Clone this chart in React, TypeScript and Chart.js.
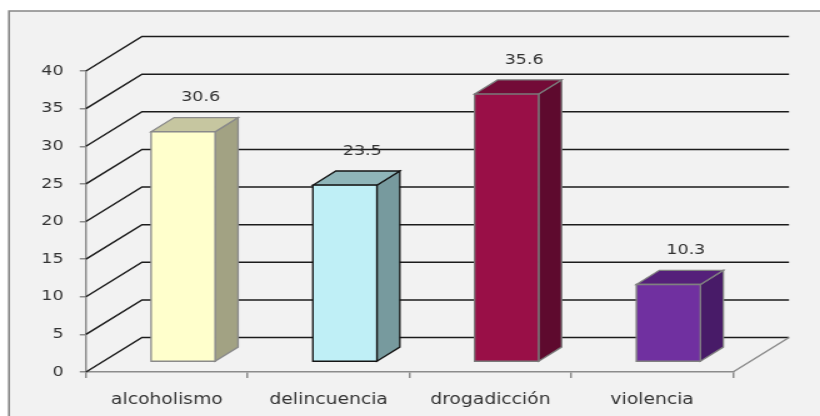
import { useEffect, useRef } from 'react';
import { Chart, registerables } from 'chart.js';

Chart.register(...registerables);

// ---- data ----
const categories = ['alcoholismo', 'delincuencia', 'drogadicción', 'violencia'];
const values = [30.6, 23.5, 35.6, 10.3];
const yMin = 0;
const yMax = 40;
const yStep = 5;

// ---- styles ----
const frontColors = ['#FFFFCC', '#BFEFF6', '#990F47', '#7030A0'];
const sideColors = ['#A2A283', '#779A9E', '#5E0A2E', '#481B68'];
const topColors = ['#C6C6A0', '#8FB5B9', '#730B37', '#55207A'];
const edgeColors = ['#8a8a8a', '#141414', '#7a7a7a', '#808080'];

const SX = 1.25; // horizontal stretch of the whole picture
const W = 656; // 820 / 1.25
const H = 416;
const DEPTH_X = 44.8;
const DEPTH_Y = -34.5;
const BAR_FRONT = 0.29;
const BAR_BACK = 0.7;

const threeD = {
  id: 'threeD',
  beforeDraw(chart: any) {
    const ctx = chart.ctx;
    ctx.save();
    ctx.fillStyle = '#ffffff';
    ctx.fillRect(0, 0, chart.width, chart.height);
    ctx.fillStyle = '#f2f2f2';
    ctx.fillRect(7.2, 11, chart.width, chart.height);
    ctx.strokeStyle = '#878787';
    ctx.lineWidth = 1.6;
    ctx.beginPath();
    ctx.moveTo(7.2, chart.height);
    ctx.lineTo(7.2, 11);
    ctx.lineTo(chart.width, 11);
    ctx.stroke();
    ctx.restore();
  },
  beforeDatasetsDraw(chart: any) {
    const ctx = chart.ctx;
    const { left, right, bottom } = chart.chartArea;
    const ys = chart.scales.y;
    ctx.save();
    ctx.strokeStyle = '#1c1c1c';
    ctx.lineWidth = 1.5;
    for (let v = yMin; v <= yMax; v += yStep) {
      const yF = ys.getPixelForValue(v);
      ctx.beginPath();
      ctx.moveTo(left, yF);
      ctx.lineTo(left + DEPTH_X, yF + DEPTH_Y);
      ctx.lineTo(right + DEPTH_X, yF + DEPTH_Y);
      ctx.stroke();
    }
    ctx.strokeStyle = '#8c8c8c';
    ctx.beginPath();
    ctx.moveTo(right, bottom);
    ctx.lineTo(right + DEPTH_X, bottom + DEPTH_Y);
    ctx.stroke();
    ctx.restore();
  },
  afterDatasetsDraw(chart: any) {
    const ctx = chart.ctx;
    const meta = chart.getDatasetMeta(0);
    const f1x = DEPTH_X * BAR_FRONT;
    const f1y = DEPTH_Y * BAR_FRONT;
    const ddx = DEPTH_X * (BAR_BACK - BAR_FRONT);
    const ddy = DEPTH_Y * (BAR_BACK - BAR_FRONT);
    ctx.save();
    ctx.lineJoin = 'miter';
    meta.data.forEach((el: any, i: number) => {
      const w = el.width;
      const x0 = el.x - w / 2 + f1x;
      const x1 = el.x + w / 2 + f1x;
      const yT = el.y + f1y;
      const yB = el.base + f1y;
      ctx.lineWidth = 1.3;
      ctx.strokeStyle = edgeColors[i];
      // side
      ctx.beginPath();
      ctx.moveTo(x1, yT);
      ctx.lineTo(x1 + ddx, yT + ddy);
      ctx.lineTo(x1 + ddx, yB + ddy);
      ctx.lineTo(x1, yB);
      ctx.closePath();
      ctx.fillStyle = sideColors[i];
      ctx.fill();
      ctx.stroke();
      // top
      ctx.beginPath();
      ctx.moveTo(x0, yT);
      ctx.lineTo(x0 + ddx, yT + ddy);
      ctx.lineTo(x1 + ddx, yT + ddy);
      ctx.lineTo(x1, yT);
      ctx.closePath();
      ctx.fillStyle = topColors[i];
      ctx.fill();
      ctx.stroke();
      // front
      ctx.beginPath();
      ctx.rect(x0, yT, x1 - x0, yB - yT);
      ctx.fillStyle = frontColors[i];
      ctx.fill();
      ctx.stroke();
      // label
      ctx.fillStyle = '#333333';
      ctx.font = '14px "DejaVu Sans"';
      ctx.textAlign = 'center';
      ctx.textBaseline = 'middle';
      ctx.fillText(String(values[i]), (x0 + x1) / 2 + 14, yT - 34);
    });
    ctx.restore();
  },
};

export default function App() {
  const ref = useRef<HTMLCanvasElement>(null);
  useEffect(() => {
    if (!ref.current) return;
    const chart = new Chart(ref.current, {
      type: 'bar',
      data: {
        labels: categories,
        datasets: [
          {
            data: values,
            backgroundColor: 'rgba(0,0,0,0)',
            borderWidth: 0,
            barPercentage: 0.3957,
            categoryPercentage: 1,
          },
        ],
      },
      options: {
        responsive: false,
        animation: false,
        devicePixelRatio: 1,
        layout: { padding: { top: 71, right: W - 586.4, left: 0, bottom: 0 } },
        plugins: { legend: { display: false }, tooltip: { enabled: false } },
        scales: {
          x: {
            grid: {
              display: true,
              drawOnChartArea: false,
              drawTicks: true,
              tickLength: 6,
              color: '#8c8c8c',
              lineWidth: 1.5,
              offset: true,
            },
            border: { display: true, color: '#8c8c8c', width: 1.5 },
            ticks: {
              color: '#333333',
              font: { family: 'DejaVu Sans', size: 15 },
              padding: 13,
              maxRotation: 0,
              autoSkip: false,
            },
            afterFit: (s: any) => {
              s.height = H - 372;
            },
          },
          y: {
            min: yMin,
            max: yMax,
            ticks: {
              stepSize: yStep,
              color: '#333333',
              font: { family: 'DejaVu Sans', size: 14 },
              padding: 13,
            },
            grid: {
              display: true,
              drawOnChartArea: false,
              drawTicks: true,
              tickLength: 5,
              color: '#8c8c8c',
              lineWidth: 1.5,
            },
            border: { display: true, color: '#8c8c8c', width: 1.5 },
            afterFit: (s: any) => {
              s.width = 68.8;
            },
          },
        },
      },
      plugins: [threeD],
    });
    return () => chart.destroy();
  }, []);
  return (
    <div
      style={{
        position: 'absolute',
        left: 0,
        top: 0,
        width: W,
        height: H,
        transform: `scaleX(${SX})`,
        transformOrigin: '0 0',
      }}
    >
      <canvas ref={ref} width={W} height={H} />
    </div>
  );
}
